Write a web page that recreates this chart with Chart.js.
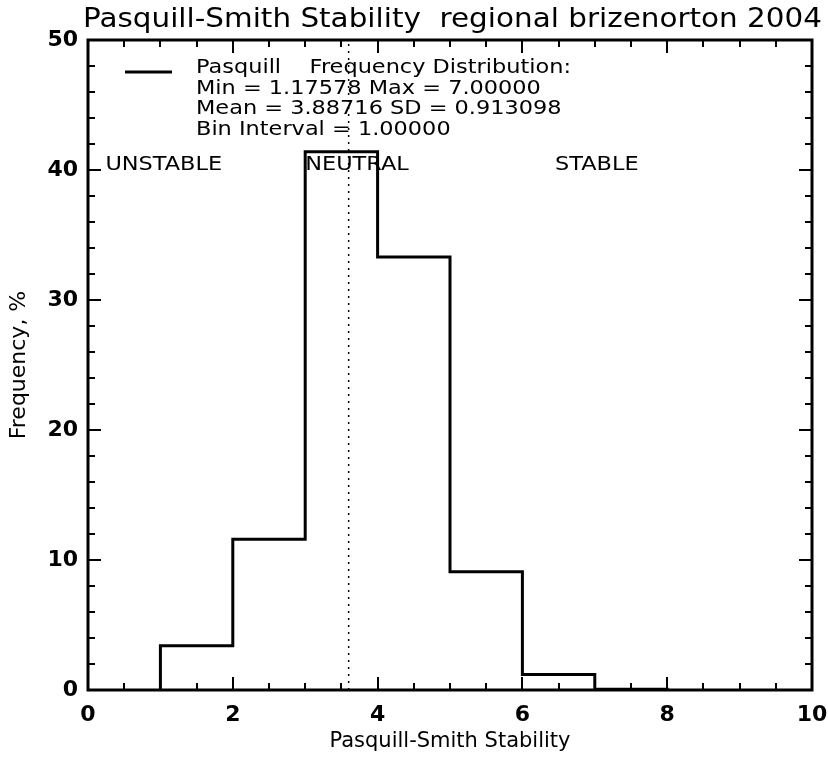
<!DOCTYPE html>
<html>
<head>
<meta charset="utf-8">
<script src="https://cdn.jsdelivr.net/npm/chart.js@4"></script>
<style>
  body { margin: 0; background: #fff; }
  #wrap { width: 828px; height: 757px; }
</style>
</head>
<body>
<div id="wrap"><canvas id="myChart" width="828" height="757"></canvas></div>
<script>
// bin edges and frequency (%) per bin
const binEdges = [1, 2, 3, 4, 5, 6, 7, 8];
const frequency = [3.4, 11.6, 41.4, 33.3, 9.1, 1.2, 0.05];
const xTicks = [0, 2, 4, 6, 8, 10];
const yTicks = [0, 10, 20, 30, 40, 50];
const dottedX = 3.6; // vertical dotted marker
const infoLines = [
  'Pasquill    Frequency Distribution:',
  'Min = 1.17578 Max = 7.00000',
  'Mean = 3.88716 SD = 0.913098',
  'Bin Interval = 1.00000'
];
const regionNames = ['UNSTABLE', 'NEUTRAL', 'STABLE'];
const regionAt = [0.24, 3.0, 6.45]; // x value where each label starts

// step histogram points
let histPoints = [{ x: binEdges[0], y: 0 }];
frequency.forEach((f, i) => {
  histPoints.push({ x: binEdges[i], y: f });
});
histPoints.push({ x: binEdges[binEdges.length - 1], y: 0 });

const FONT = '"DejaVu Sans", sans-serif';

// text stretched to a given width (the IDL font is wider than anything installed)
function wideText(ctx, text, x, y, width) {
  const w = ctx.measureText(text).width;
  ctx.save();
  ctx.translate(x, y);
  ctx.scale(width / w, 1);
  ctx.fillText(text, 0, 0);
  ctx.restore();
  return width / w;
}

// box, inward ticks, title and text annotations
const idlPlugin = {
  id: 'idlPlugin',
  afterDatasetsDraw(chart) {
    const ctx = chart.ctx;
    const a = chart.chartArea;
    const xs = chart.scales.x, ys = chart.scales.y;
    ctx.save();
    ctx.strokeStyle = '#000';
    ctx.lineWidth = 3;
    ctx.strokeRect(a.left, a.top, a.right - a.left, a.bottom - a.top);

    ctx.lineWidth = 2;
    ctx.beginPath();
    for (let v = 0; v <= 10.001; v += 0.5) {
      const px = Math.round(xs.getPixelForValue(v));
      const len = (Math.abs(v % 2) < 0.01) ? 13 : 7;
      ctx.moveTo(px, a.bottom); ctx.lineTo(px, a.bottom - len);
      ctx.moveTo(px, a.top); ctx.lineTo(px, a.top + len);
    }
    for (let v = 0; v <= 50.001; v += 2) {
      const py = Math.round(ys.getPixelForValue(v));
      const len = (Math.abs(v % 10) < 0.01) ? 13 : 7;
      ctx.moveTo(a.left, py); ctx.lineTo(a.left + len, py);
      ctx.moveTo(a.right, py); ctx.lineTo(a.right - len, py);
    }
    ctx.stroke();

    // title
    ctx.fillStyle = '#000';
    ctx.textAlign = 'left';
    ctx.textBaseline = 'alphabetic';
    ctx.font = '27px ' + FONT;
    wideText(ctx, 'Pasquill-Smith Stability  regional brizenorton 2004', 83, 27, 739);

    // legend line + text
    ctx.lineWidth = 3;
    ctx.beginPath();
    ctx.moveTo(a.left + 37, a.top + 32);
    ctx.lineTo(a.left + 84, a.top + 32);
    ctx.stroke();
    ctx.font = '20px ' + FONT;
    const k = ctx.measureText(infoLines[0]).width;
    const sx = 375 / k;
    infoLines.forEach((t, i) => {
      wideText(ctx, t, a.left + 108, a.top + 33 + i * 20.5, ctx.measureText(t).width * sx);
    });

    // region labels
    regionNames.forEach((t, i) => {
      wideText(ctx, t, xs.getPixelForValue(regionAt[i]), ys.getPixelForValue(40), ctx.measureText(t).width * sx);
    });
    ctx.restore();
  }
};

const ctx = document.getElementById('myChart').getContext('2d');
const myChart = new Chart(ctx, {
  type: 'line',
  data: {
    datasets: [{
      label: 'Pasquill',
      data: histPoints,
      stepped: true,
      borderColor: '#000',
      borderWidth: 3,
      pointRadius: 0,
      fill: false
    }, {
      label: 'marker',
      data: [{ x: dottedX, y: 0 }, { x: dottedX, y: 50 }],
      borderColor: '#000',
      borderWidth: 1.5,
      borderDash: [2, 5],
      pointRadius: 0,
      fill: false
    }]
  },
  options: {
    responsive: false,
    animation: false,
    layout: { padding: { top: 40, right: 16, left: 0, bottom: 0 } },
    plugins: {
      legend: { display: false },
      tooltip: { enabled: false }
    },
    scales: {
      x: {
        type: 'linear',
        min: 0, max: 10,
        afterBuildTicks: (s) => { s.ticks = xTicks.map(v => ({ value: v })); },
        afterFit: (s) => { s.height = 67; s.paddingLeft = 0; s.paddingRight = 0; },
        grid: { display: false, drawTicks: false },
        border: { display: false },
        ticks: {
          color: '#000',
          padding: 12,
          maxRotation: 0,
          font: { family: FONT, size: 22, weight: 'bold' }
        },
        title: {
          display: true,
          text: 'Pasquill-Smith Stability',
          color: '#000',
          font: { family: FONT, size: 21 },
          padding: { top: 0, bottom: 3 }
        }
      },
      y: {
        min: 0, max: 50,
        afterBuildTicks: (s) => { s.ticks = yTicks.map(v => ({ value: v })); },
        afterFit: (s) => { s.width = 88; s.paddingTop = 0; s.paddingBottom = 0; },
        grid: { display: false, drawTicks: false },
        border: { display: false },
        ticks: {
          color: '#000',
          padding: 10,
          font: { family: FONT, size: 22, weight: 'bold' }
        },
        title: {
          display: true,
          text: 'Frequency, %',
          color: '#000',
          font: { family: FONT, size: 22 },
          padding: { top: 6, bottom: 0 }
        }
      }
    }
  },
  plugins: [idlPlugin]
});
</script>
</body>
</html>
